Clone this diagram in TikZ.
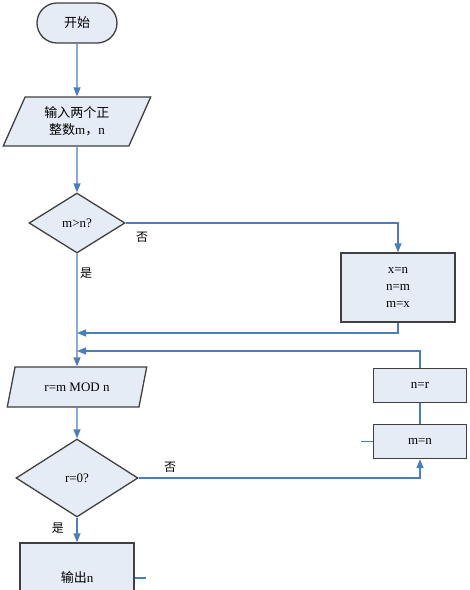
\documentclass[tikz,border=0pt]{standalone}
\usepackage{fontspec}
\setmainfont{Liberation Serif}
\newfontfamily\cjk{Noto Sans CJK SC}
\usetikzlibrary{shapes.geometric,arrows.meta}

\definecolor{boxfill}{HTML}{E6ECF6}
\definecolor{boxline}{HTML}{404040}
\definecolor{flowline}{HTML}{4A7EBB}

\tikzset{
  base/.style={draw=boxline,fill=boxfill,line width=1.3pt,inner sep=0pt,
    font=\fontsize{13}{17}\selectfont,align=center},
  term/.style={base,rectangle,rounded corners=20pt,minimum width=80pt,minimum height=40pt},
  io/.style={base,trapezium,trapezium left angle=65,trapezium right angle=115,
    trapezium stretches=true},
  test/.style={base,diamond},
  proc/.style={base,rectangle},
  flow/.style={draw=flowline,line width=1.3pt,-{Triangle[width=7pt,length=9pt]}},
  link/.style={draw=flowline,line width=1.3pt},
  lab/.style={font=\cjk\fontsize{12}{14}\selectfont}
}

\begin{document}
\begin{tikzpicture}[x=1pt,y=-1pt]
\useasboundingbox (0,0) rectangle (470,590);
\clip (0,0) rectangle (470,590);

% main column
\node[term] (start) at (77,23) {\cjk 开始};
\node[io,minimum width=148pt,minimum height=49pt] (input) at (77,121.5)
  {{\cjk 输入两个正}\\{\cjk 整数}m{\cjk ，}n};
\node[test,minimum width=96pt,minimum height=60pt] (cmp) at (77,223) {m>n?};
\node[io,minimum width=140pt,minimum height=40pt] (mod) at (77,387) {r=m MOD n};
\node[test,minimum width=122pt,minimum height=78pt] (zero) at (77,478) {r=0?};
\node[proc,minimum width=114pt,minimum height=70pt] (outp) at (77,578) {{\cjk 输出}n};

% right column
\node[proc,minimum width=114pt,minimum height=69pt] (swap) at (398,287.5) {x=n\\n=m\\m=x};
\node[proc,minimum width=93pt,minimum height=34pt] (setn) at (420,385.5) {n=r};
\node[proc,minimum width=93pt,minimum height=34pt] (setm) at (420,441.5) {m=n};

\coordinate (j1) at (77,333);
\coordinate (j2) at (77,351);
\coordinate (s1) at ([xshift=11pt]outp.east);
\coordinate (s2) at ([xshift=-12pt]setm.west);

% connectors
\draw[flow] (start) -- (input);
\draw[flow] (input) -- (cmp);
\draw[flow] (cmp.south) -- (mod.north);
\draw[flow] (cmp.east) -| (swap.north);
\draw[flow] (swap.south) |- (j1);
\draw[flow] (setn.north) |- (j2);
\draw[link] (setm.north) -- (setn.south);
\draw[flow] (mod) -- (zero);
\draw[flow] (zero.east) -| (setm.south);
\draw[flow] (zero.south) -- (outp.north);
\draw[link] (outp.east) -- (s1);
\draw[link] (setm.west) -- (s2);

% labels
\node[lab] at (142,237) {否};
\node[lab] at (86,273) {是};
\node[lab] at (170,467) {否};
\node[lab] at (58,528) {是};
\end{tikzpicture}
\end{document}
